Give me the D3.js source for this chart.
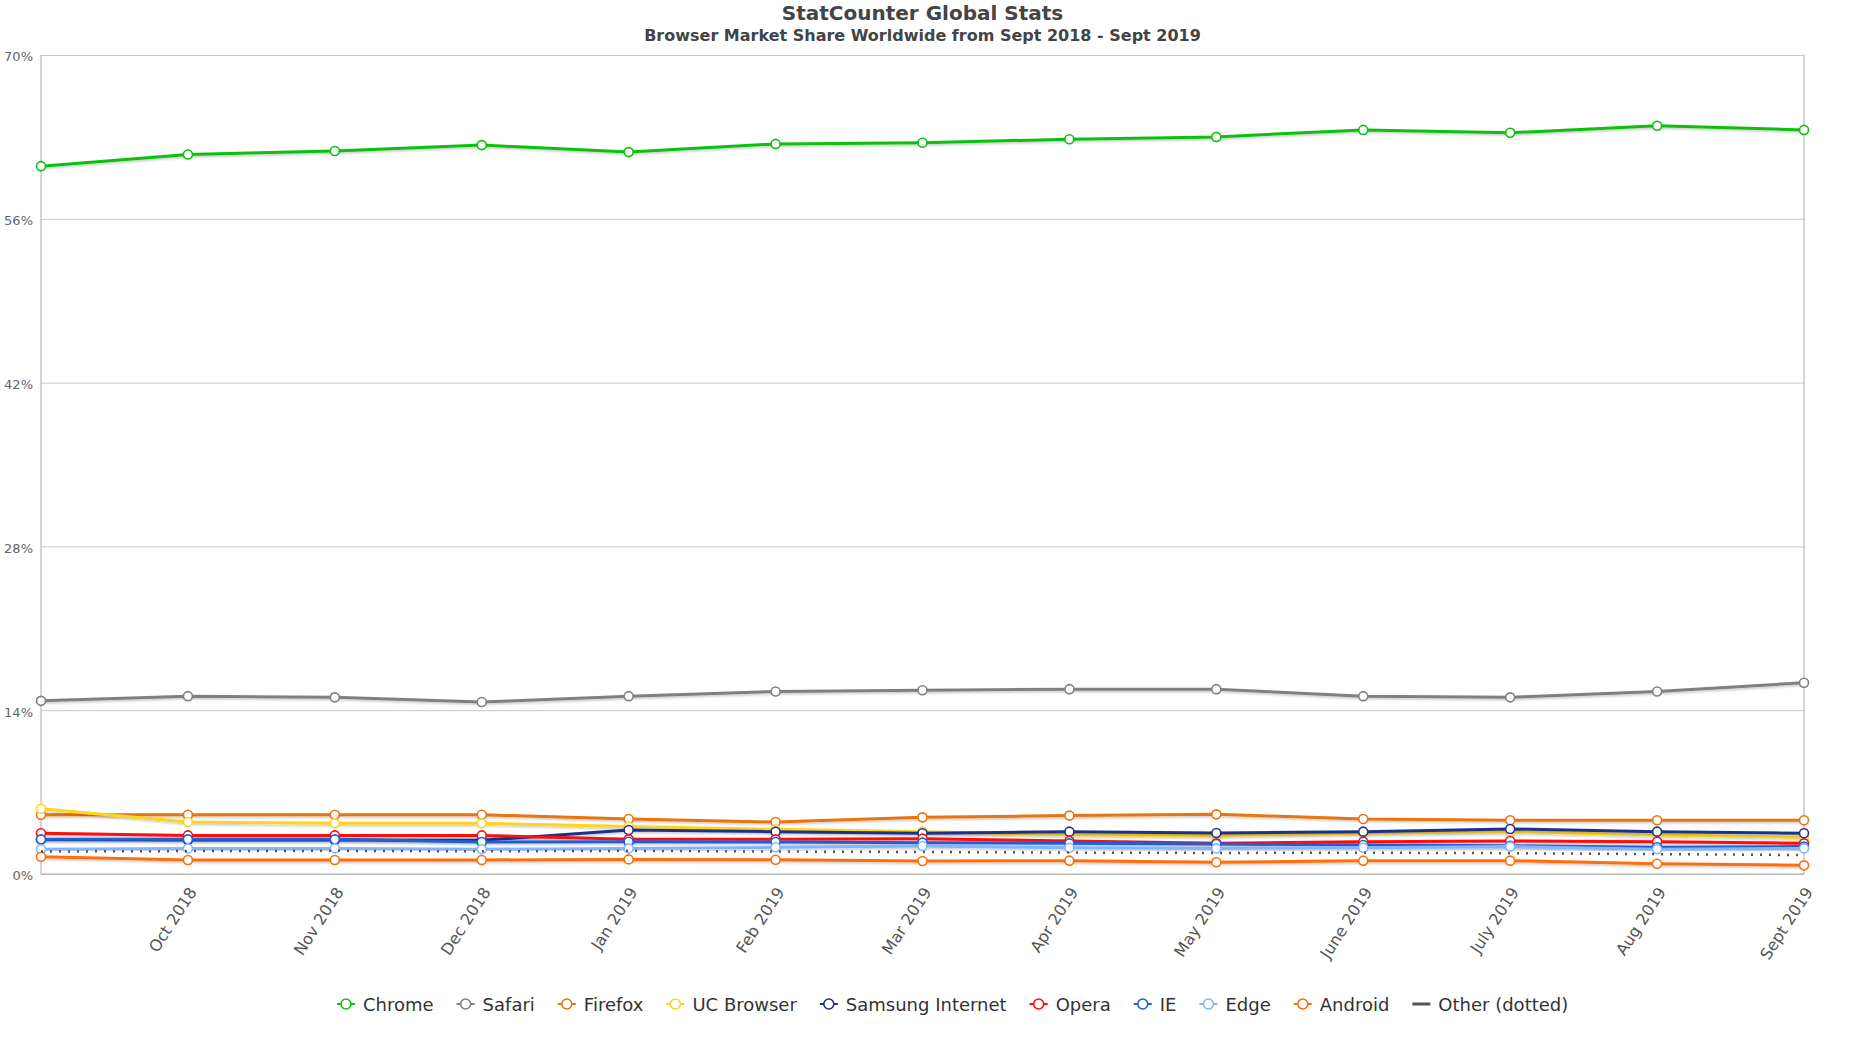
<!DOCTYPE html>
<html><head><meta charset="utf-8">
<script src="https://cdn.jsdelivr.net/npm/d3@7"></script>
<style>
body{margin:0;background:#fff}
svg{display:block;font-family:"DejaVu Sans",Verdana,sans-serif}
</style>
</head><body>
<svg id="c" width="1856" height="1044"></svg>
<script>
// ---- data ----
const months = ["Sept 2018","Oct 2018","Nov 2018","Dec 2018","Jan 2019","Feb 2019","Mar 2019","Apr 2019","May 2019","June 2019","July 2019","Aug 2019","Sept 2019"];
const xTickLabels = ["Oct 2018","Nov 2018","Dec 2018","Jan 2019","Feb 2019","Mar 2019","Apr 2019","May 2019","June 2019","July 2019","Aug 2019","Sept 2019"];
const yTicks = [0,14,28,42,56,70];
const seriesNames = ["Chrome","Safari","Firefox","UC Browser","Samsung Internet","Opera","IE","Edge","Android","Other (dotted)"];
const chrome   = [60.5,61.5,61.8,62.3,61.7,62.4,62.5,62.8,63.0,63.6,63.35,63.95,63.6];
const safari   = [14.8,15.2,15.1,14.7,15.2,15.6,15.7,15.8,15.8,15.2,15.1,15.6,16.35];
const firefox  = [5.07,5.07,5.07,5.07,4.70,4.44,4.84,4.99,5.10,4.70,4.59,4.59,4.59];
const ucBrowser= [5.58,4.44,4.33,4.33,4.05,3.82,3.62,3.35,3.30,3.48,3.62,3.33,3.13];
const samsung  = [2.95,2.90,2.90,2.88,3.76,3.62,3.48,3.62,3.50,3.62,3.85,3.62,3.48];
const opera    = [3.48,3.30,3.30,3.30,2.96,2.96,3.02,2.82,2.62,2.76,2.82,2.76,2.62];
const ie       = [2.96,2.96,2.96,2.73,2.76,2.73,2.68,2.62,2.56,2.48,2.42,2.28,2.34];
const edge     = [2.11,2.19,2.19,2.11,2.19,2.28,2.39,2.25,2.19,2.25,2.34,2.11,2.19];
const android  = [1.48,1.20,1.20,1.20,1.25,1.22,1.11,1.14,1.00,1.14,1.14,0.88,0.74];
const other    = [1.92,1.96,1.98,1.94,1.98,1.92,1.88,1.83,1.80,1.82,1.78,1.70,1.62];
const seriesValues = [chrome,safari,firefox,ucBrowser,samsung,opera,ie,edge,android,other];
const seriesColors = ["#10c010","#808080","#e8740f","#ffd41f","#1f3288","#ff0a0a","#1a5fd6","#82b5ff","#ff6d0a","#555555"];

// ---- layout ----
const svg = d3.select("#c");
const L = 41, R = 1804, T = 55, B = 874;
const x = d3.scalePoint().domain(months).range([L, R]).padding(0);
const y = d3.scaleLinear().domain([0, 70]).range([B, T]);

const defs = svg.append("defs");
const f = defs.append("filter").attr("id","sh").attr("x","-5%").attr("y","-50%").attr("width","110%").attr("height","200%");
f.append("feDropShadow").attr("dx",1).attr("dy",1.5).attr("stdDeviation",1.2).attr("flood-color","#000").attr("flood-opacity",0.22);

// titles
svg.append("text").attr("x",(L+R)/2).attr("y",20).attr("text-anchor","middle")
  .attr("font-size",20).attr("font-weight","bold").attr("fill","#444").text("StatCounter Global Stats");
svg.append("text").attr("x",(L+R)/2).attr("y",41).attr("text-anchor","middle")
  .attr("font-size",16).attr("font-weight","bold").attr("fill","#444").text("Browser Market Share Worldwide from Sept 2018 - Sept 2019");

// y grid + axis
const yAxis = d3.axisLeft(y).tickValues(yTicks).tickSize(-(R-L)).tickPadding(8).tickFormat(d => d + "%");
const gy = svg.append("g").attr("transform",`translate(${L},0)`).call(yAxis);
gy.select(".domain").remove();
gy.selectAll(".tick line").attr("stroke","#c8c8c8").attr("stroke-width",1);
gy.selectAll(".tick text").attr("font-size",13).attr("fill","#666").attr("font-family","DejaVu Sans").attr("dy","0.45em");
// borders
svg.append("line").attr("x1",L).attr("x2",L).attr("y1",T).attr("y2",B).attr("stroke","#aaa");
svg.append("line").attr("x1",R).attr("x2",R).attr("y1",T).attr("y2",B).attr("stroke","#aaa");
svg.append("line").attr("x1",L).attr("x2",R).attr("y1",B).attr("y2",B).attr("stroke","#aaa");

// x axis labels
const xAxis = d3.axisBottom(x).tickValues(xTickLabels).tickSize(0).tickPadding(0);
const gx = svg.append("g").attr("transform",`translate(0,${B})`).call(xAxis);
gx.select(".domain").remove();
gx.selectAll(".tick text").attr("font-size",16).attr("fill","#555").attr("font-family","DejaVu Sans")
  .attr("text-anchor","end").attr("dy",0)
  .attr("transform","translate(9,18) rotate(-57)");

// lines
const line = d3.line().x((d,i) => x(months[i])).y(d => y(d));
const gs = svg.append("g");
seriesValues.forEach((vals, si) => {
  const g = gs.append("g");
  const isOther = seriesNames[si].startsWith("Other");
  g.append("path").datum(vals).attr("d", line).attr("fill","none")
    .attr("stroke", seriesColors[si]).attr("stroke-width", isOther ? 2.5 : 3)
    .attr("stroke-dasharray", isOther ? "2,7" : null)
    .attr("stroke-linejoin","round")
    .attr("filter", isOther ? null : "url(#sh)");
  if (!isOther) {
    g.selectAll("circle").data(vals).join("circle")
      .attr("cx",(d,i) => x(months[i])).attr("cy", d => y(d)).attr("r",4.5)
      .attr("fill","#fff").attr("stroke",seriesColors[si]).attr("stroke-width",1.6);
  }
});

// legend
const lg = svg.append("g").attr("transform","translate(0,1004)");
let cx = 346;
seriesNames.forEach((name, si) => {
  const it = lg.append("g").attr("transform",`translate(${cx},0)`);
  const isOther = name.startsWith("Other");
  it.append("line").attr("x1",-9).attr("x2",9).attr("y1",0).attr("y2",0)
    .attr("stroke",seriesColors[si]).attr("stroke-width",isOther?3:2);
  if (!isOther) it.append("circle").attr("r",5).attr("fill","#fff").attr("stroke",seriesColors[si]).attr("stroke-width",1.6);
  const t = it.append("text").attr("x",17).attr("y",6.5).attr("font-size",18).attr("fill","#333").text(name);
  cx += 17 + t.node().getComputedTextLength() + 32;
});
</script>
</body></html>
